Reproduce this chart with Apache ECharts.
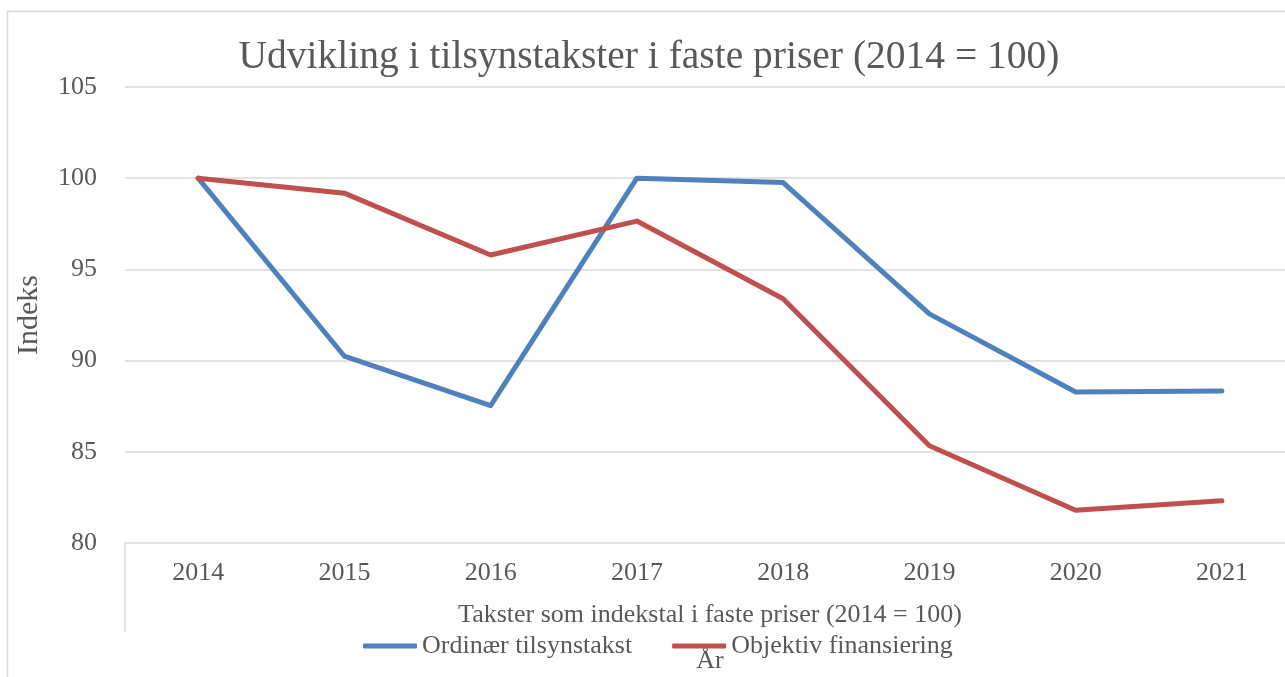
<!DOCTYPE html>
<html>
<head>
<meta charset="utf-8">
<title>Udvikling i tilsynstakster</title>
<script src="https://cdn.jsdelivr.net/npm/echarts@6/dist/echarts.min.js"></script>
<style>
  html, body { margin: 0; padding: 0; background: #fff; }
  #chart { width: 1285px; height: 677px; }
</style>
</head>
<body>
<div id="chart"></div>
<script>
// data
const years = ["2014", "2015", "2016", "2017", "2018", "2019", "2020", "2021"];
const ordinaer = [100, 90.24, 87.53, 100, 99.76, 92.56, 88.28, 88.33];
const objektiv = [100, 99.18, 95.79, 97.65, 93.39, 85.33, 81.8, 82.31];
const seriesNames = ["Ordinær tilsynstakst", "Objektiv finansiering"];

const serif = '"Liberation Serif", "DejaVu Serif", serif';
const grey = "#595959";

const chart = echarts.init(document.getElementById("chart"));
chart.setOption({
  backgroundColor: "#fff",
  animation: false,
  textStyle: { fontFamily: serif },
  title: {
    text: "Udvikling i tilsynstakster i faste priser (2014 = 100)",
    left: 644,
    top: 33,
    textAlign: "center",
    textStyle: { fontFamily: serif, fontSize: 39.5, fontWeight: "normal", color: grey },
  },
  legend: {
    data: seriesNames,
    left: 358,
    top: 628,
    itemWidth: 54,
    itemHeight: 5,
    itemGap: 40,
    icon: "roundRect",
    textStyle: { fontFamily: serif, fontSize: 26, color: grey },
  },
  grid: { left: 125, top: 87, width: 1170, height: 456, outerBoundsMode: "none" },
  xAxis: [
    {
      type: "category",
      data: years,
      boundaryGap: true,
      axisLine: { show: false },
      axisTick: {
        show: true,
        length: 89,
        interval: (index) => index === 0,
        lineStyle: { color: "#d9d9d9", width: 1.5 },
      },
      axisLabel: { fontFamily: serif, fontSize: 26, color: grey, margin: 17 },
      name: "Takster som indekstal i faste priser (2014 = 100)",
      nameLocation: "middle",
      nameGap: 59,
      nameTextStyle: { fontFamily: serif, fontSize: 26, color: grey },
    },
    {
      type: "category",
      data: years,
      position: "bottom",
      axisLine: { show: false },
      axisTick: { show: false },
      axisLabel: { show: false },
      name: "År",
      nameLocation: "middle",
      nameGap: 105,
      nameTextStyle: { fontFamily: serif, fontSize: 26, color: grey },
    },
  ],
  yAxis: {
    type: "value",
    min: 80,
    max: 105,
    interval: 5,
    axisLine: { show: false },
    axisTick: { show: false },
    axisLabel: { fontFamily: serif, fontSize: 26, color: grey, margin: 28 },
    splitLine: { lineStyle: { color: "#d9d9d9", width: 1.5 } },
    name: "Indeks",
    nameLocation: "middle",
    nameRotate: 90,
    nameGap: 81,
    nameTextStyle: { fontFamily: serif, fontSize: 30, color: grey },
  },
  graphic: [
    {
      type: "rect",
      shape: { x: 7.5, y: 11.5, width: 1400, height: 800 },
      style: { fill: "none", stroke: "#d9d9d9", lineWidth: 1.5 },
      silent: true,
      z: -1,
    },
  ],
  series: [
    {
      name: seriesNames[0],
      type: "line",
      data: ordinaer,
      showSymbol: false,
      symbol: "none",
      color: "#4f81bd",
      lineStyle: { width: 5, cap: "round", join: "round" },
    },
    {
      name: seriesNames[1],
      type: "line",
      data: objektiv,
      showSymbol: false,
      symbol: "none",
      color: "#c0504d",
      lineStyle: { width: 5, cap: "round", join: "round" },
    },
  ],
});
</script>
</body>
</html>
